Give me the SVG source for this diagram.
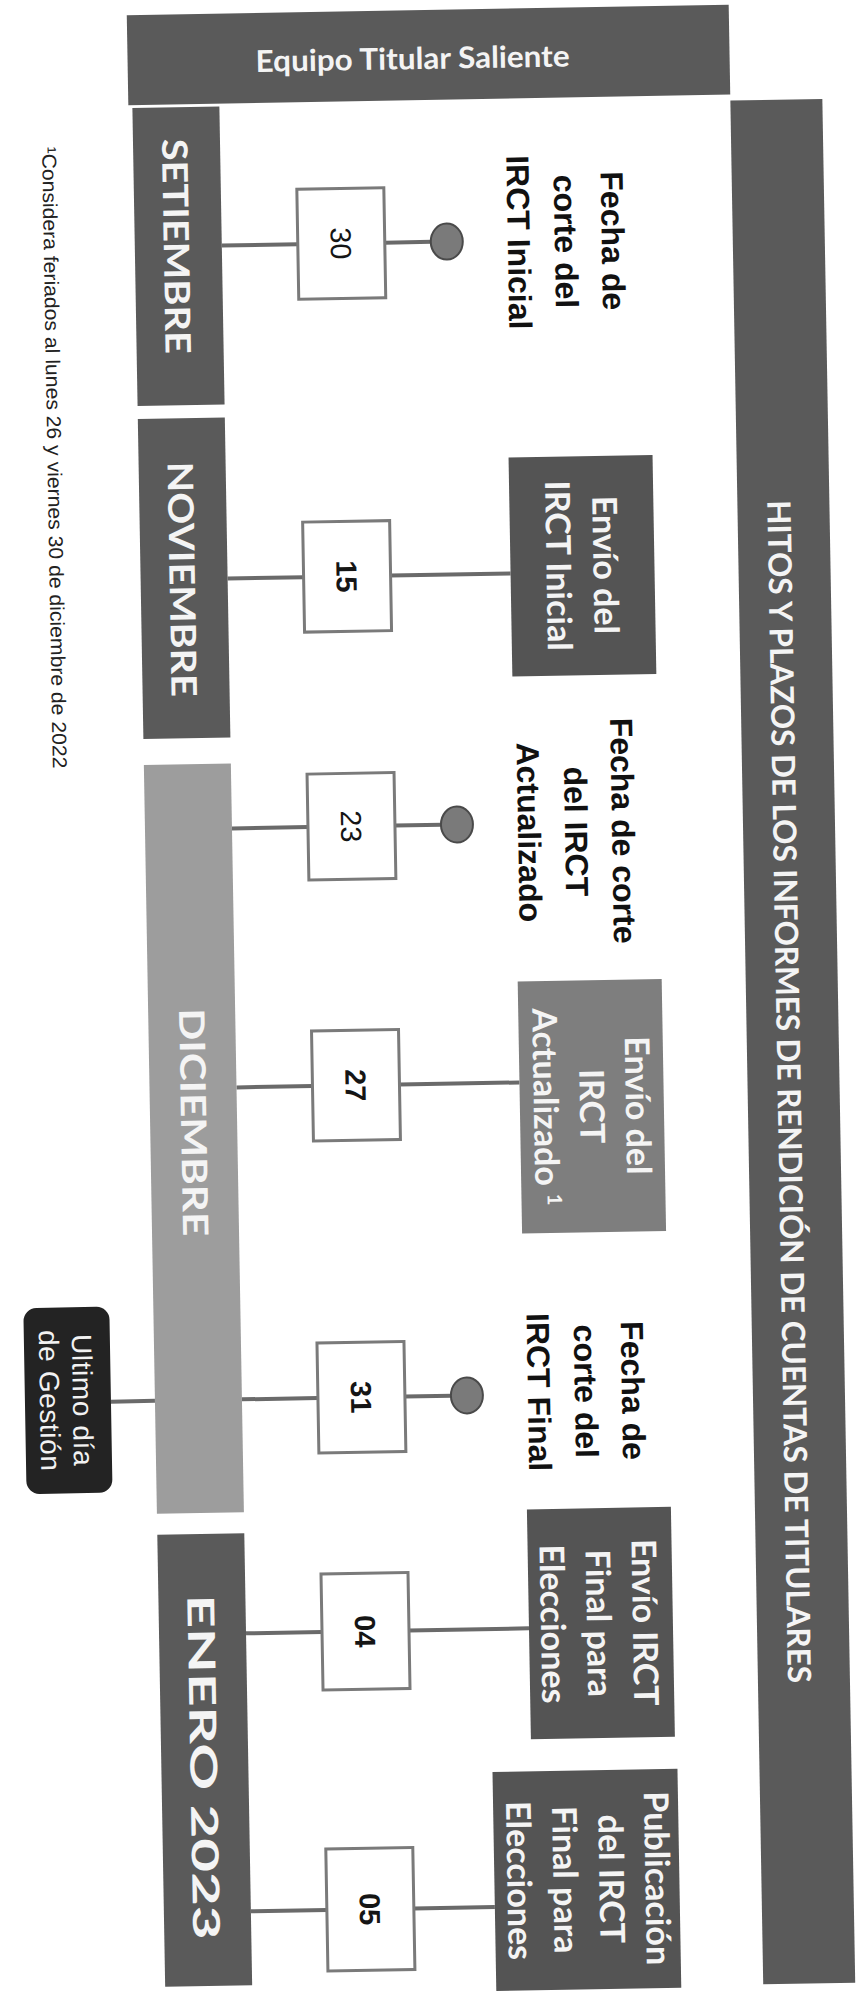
<svg xmlns="http://www.w3.org/2000/svg" width="858" height="1995" viewBox="0 0 858 1995">
<style>
.dark{fill:#5a5a5a}
.light{fill:#9d9d9d}
.mid{fill:#7e7e7e}
.lab{fill:#545454}
.date{fill:#ffffff;stroke:#7a7a7a;stroke-width:3}
.dot{fill:#7a7a7a;stroke:#4a4a4a;stroke-width:2}
.ln{stroke:#6a6a6a;stroke-width:4;fill:none}
.wb{font-family:Lato,'Liberation Sans',sans-serif;font-weight:700;fill:#f4f4f4}
.bk{font-family:'Liberation Sans',Arial,sans-serif;font-weight:700;fill:#111111;font-size:32px}
.num{font-family:'Liberation Sans',Arial,sans-serif;fill:#151515;font-size:29px}
.nb{font-weight:700}
</style>
<rect x="0" y="0" width="858" height="1995" fill="#ffffff"/>
<g transform="rotate(-1 430 1000)">
  <g id="connectors">
    <line class="ln" x1="235" y1="242" x2="311" y2="242"/>
    <line class="ln" x1="398" y1="242" x2="445" y2="242"/>
    <line class="ln" x1="235" y1="575" x2="311" y2="575"/>
    <line class="ln" x1="398" y1="575" x2="518" y2="575"/>
    <line class="ln" x1="235" y1="825" x2="311" y2="825"/>
    <line class="ln" x1="398" y1="825" x2="445" y2="825"/>
    <line class="ln" x1="235" y1="1084" x2="311" y2="1084"/>
    <line class="ln" x1="398" y1="1084" x2="518" y2="1084"/>
    <line class="ln" x1="104" y1="1396" x2="148" y2="1396"/>
    <line class="ln" x1="235" y1="1396" x2="311" y2="1396"/>
    <line class="ln" x1="398" y1="1396" x2="445" y2="1396"/>
    <line class="ln" x1="235" y1="1630" x2="311" y2="1630"/>
    <line class="ln" x1="398" y1="1630" x2="518" y2="1630"/>
    <line class="ln" x1="235" y1="1908" x2="311" y2="1908"/>
    <line class="ln" x1="398" y1="1908" x2="479" y2="1908"/>
  </g>

  <g id="header">
    <rect class="dark" x="144" y="10" width="602" height="90"/>
    <text x="429" y="69" text-anchor="middle" class="wb" font-size="30" textLength="314" lengthAdjust="spacingAndGlyphs">Equipo Titular Saliente</text>
  </g>

  <g id="title-bar">
    <rect class="dark" x="746" y="106" width="92" height="1884"/>
    <text transform="translate(776 1098) rotate(90)" text-anchor="middle" class="wb" font-size="32" textLength="1183" lengthAdjust="spacingAndGlyphs">HITOS Y PLAZOS DE LOS INFORMES DE RENDICIÓN DE CUENTAS DE TITULARES</text>
  </g>

  <g id="month-setiembre">
    <rect class="dark" x="148" y="103" width="87" height="298"/>
    <text transform="translate(177 242) rotate(90)" text-anchor="middle" class="wb" font-size="35" textLength="215" lengthAdjust="spacingAndGlyphs">SETIEMBRE</text>
  </g>
  <g id="month-noviembre">
    <rect class="dark" x="148" y="414" width="87" height="320"/>
    <text transform="translate(177 575) rotate(90)" text-anchor="middle" class="wb" font-size="35" textLength="235" lengthAdjust="spacingAndGlyphs">NOVIEMBRE</text>
  </g>
  <g id="month-diciembre">
    <rect class="light" x="148" y="760" width="87" height="749"/>
    <text transform="translate(179 1118) rotate(90)" text-anchor="middle" class="wb" font-size="35" textLength="228" lengthAdjust="spacingAndGlyphs">DICIEMBRE</text>
  </g>
  <g id="month-enero">
    <rect class="dark" x="148" y="1530" width="87" height="452"/>
    <text transform="translate(177 1763) rotate(90)" text-anchor="middle" class="wb" font-size="37" textLength="345" lengthAdjust="spacingAndGlyphs">ENERO 2023</text>
  </g>

  <g id="date-30">
    <rect class="date" x="311" y="187" width="87" height="110"/>
    <text transform="translate(344 242) rotate(90)" text-anchor="middle" class="num">30</text>
  </g>
  <g id="date-15">
    <rect class="date" x="311" y="520" width="87" height="110"/>
    <text transform="translate(344 575) rotate(90)" text-anchor="middle" class="num nb">15</text>
  </g>
  <g id="date-23">
    <rect class="date" x="311" y="772" width="87" height="106"/>
    <text transform="translate(344 825) rotate(90)" text-anchor="middle" class="num">23</text>
  </g>
  <g id="date-27">
    <rect class="date" x="311" y="1029" width="87" height="110"/>
    <text transform="translate(344 1084) rotate(90)" text-anchor="middle" class="num nb">27</text>
  </g>
  <g id="date-31">
    <rect class="date" x="311" y="1341" width="87" height="110"/>
    <text transform="translate(344 1396) rotate(90)" text-anchor="middle" class="num nb">31</text>
  </g>
  <g id="date-04">
    <rect class="date" x="311" y="1572" width="87" height="116"/>
    <text transform="translate(344 1630) rotate(90)" text-anchor="middle" class="num nb">04</text>
  </g>
  <g id="date-05">
    <rect class="date" x="311" y="1847" width="87" height="122"/>
    <text transform="translate(344 1908) rotate(90)" text-anchor="middle" class="num nb">05</text>
  </g>

  <g id="dot-30"><ellipse class="dot" cx="460" cy="242" rx="16" ry="18"/></g>
  <g id="dot-23"><ellipse class="dot" cx="460" cy="825" rx="16" ry="18"/></g>
  <g id="dot-31"><ellipse class="dot" cx="460" cy="1396" rx="16" ry="18"/></g>

  <g id="label-corte-inicial">
    <text transform="translate(615 244) rotate(90)" text-anchor="middle" class="bk"><tspan x="0" dy="0">Fecha de</tspan><tspan x="0" dy="47">corte del</tspan><tspan x="0" dy="47">IRCT Inicial</tspan></text>
  </g>
  <g id="label-corte-actualizado">
    <text transform="translate(615 834) rotate(90)" text-anchor="middle" class="bk"><tspan x="0" dy="0">Fecha de corte</tspan><tspan x="0" dy="47">del IRCT</tspan><tspan x="0" dy="47">Actualizado</tspan></text>
  </g>
  <g id="label-corte-final">
    <text transform="translate(615 1394) rotate(90)" text-anchor="middle" class="bk"><tspan x="0" dy="0">Fecha de</tspan><tspan x="0" dy="47">corte del</tspan><tspan x="0" dy="47">IRCT Final</tspan></text>
  </g>

  <g id="envio-inicial">
    <rect class="lab" x="518" y="459" width="144" height="219"/>
    <text transform="translate(601 568) rotate(90)" text-anchor="middle" class="wb" font-size="34"><tspan x="0" dy="0">Envío del</tspan><tspan x="0" dy="47">IRCT Inicial</tspan></text>
  </g>
  <g id="envio-actualizado">
    <rect class="mid" x="518" y="983" width="144" height="252"/>
    <text transform="translate(624 1109) rotate(90)" text-anchor="middle" class="wb" font-size="34"><tspan x="0" dy="0">Envío del</tspan><tspan x="0" dy="46">IRCT</tspan><tspan x="0" dy="46">Actualizado <tspan font-size="20" dy="-12">1</tspan></tspan></text>
  </g>
  <g id="envio-final">
    <rect class="lab" x="518" y="1511" width="144" height="230"/>
    <text transform="translate(622 1626) rotate(90)" text-anchor="middle" class="wb" font-size="34"><tspan x="0" dy="0">Envío IRCT</tspan><tspan x="0" dy="46">Final para</tspan><tspan x="0" dy="46">Elecciones</tspan></text>
  </g>
  <g id="publicacion-final">
    <rect class="lab" x="479" y="1773" width="185" height="219"/>
    <text transform="translate(630 1882) rotate(90)" text-anchor="middle" class="wb" font-size="34"><tspan x="0" dy="0">Publicación</tspan><tspan x="0" dy="46">del IRCT</tspan><tspan x="0" dy="46">Final para</tspan><tspan x="0" dy="46">Elecciones</tspan></text>
  </g>

  <g id="ultimo-dia">
    <rect x="18" y="1301" width="86" height="186" rx="13" fill="#232323"/>
    <text transform="translate(66 1394) rotate(90)" text-anchor="middle" font-family="'Liberation Sans',Arial,sans-serif" font-size="28" fill="#f2f2f2" letter-spacing="0.6"><tspan x="0" dy="0">Ultimo día</tspan><tspan x="0" dy="33">de Gestión</tspan></text>
  </g>

  <g id="footnote">
    <text transform="translate(57 140) rotate(90)" font-family="'Liberation Sans',Arial,sans-serif" font-size="20" fill="#222222" textLength="622" lengthAdjust="spacingAndGlyphs">¹Considera feriados al lunes 26 y viernes 30 de diciembre de 2022</text>
  </g>
</g>
</svg>
